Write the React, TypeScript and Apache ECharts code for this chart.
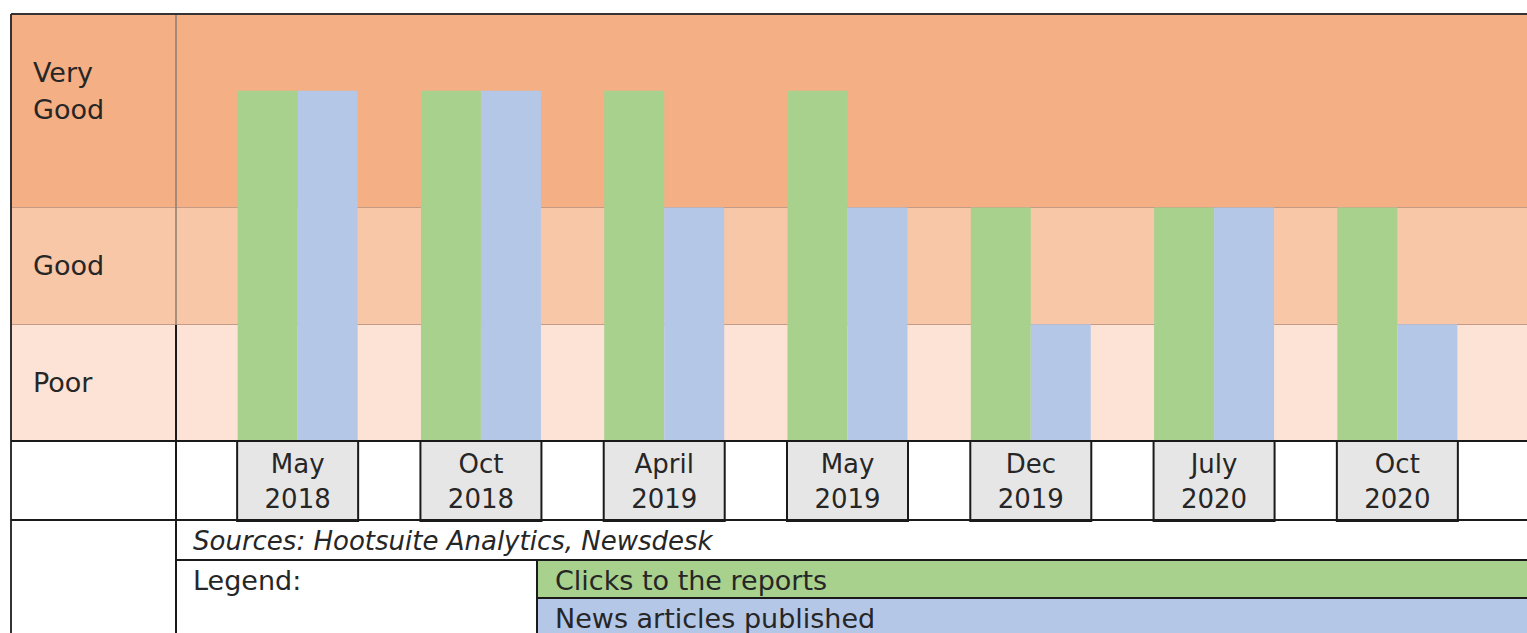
import React, { useEffect, useRef } from "react";
import * as echarts from "echarts";

const categories = ["May\n2018", "Oct\n2018", "April\n2019", "May\n2019", "Dec\n2019", "July\n2020", "Oct\n2020"];
const clicks = [3, 3, 3, 3, 2, 2, 2];
const news = [3, 3, 2, 2, 1, 2, 1];
const levelLabels = ["Poor", "Good", "Very\nGood"];
const levelTicks = [0.5, 1.5, 3];
const bandBounds = [0, 1, 2, 3.65];
const bandColors = ["#FCE3D5", "#F8C7A7", "#F4AF84"];
const seriesNames = ["Clicks to the reports", "News articles published"];
const sourceText = "Sources: Hootsuite Analytics, Newsdesk";

const FONT = "DejaVu Sans";
const TXT = "#262626";
const GREEN = "#A9D18E";
const BLUE = "#B4C7E7";

export default function App() {
  const ref = useRef<HTMLDivElement>(null);
  useEffect(() => {
    if (!ref.current) return;
    const chart = echarts.init(ref.current, null, { renderer: "svg" });
    const W = 1527;
    const blackLine = (x1: number, y1: number, x2: number, y2: number, color = "#1a1a1a", w = 2) => ({
      type: "line",
      shape: { x1, y1, x2, y2 },
      style: { stroke: color, lineWidth: w },
      z: 100,
      silent: true,
    });
    chart.setOption({
      animation: false,
      backgroundColor: "#ffffff",
      grid: [
        { left: 11, right: 0, top: 15, bottom: 192 },
        { left: 206, right: 38, top: 15, bottom: 192 },
      ],
      xAxis: [
        { gridIndex: 0, type: "value", min: 0, max: 1, show: false },
        {
          gridIndex: 1,
          type: "category",
          data: categories,
          axisLine: { show: false },
          axisTick: { show: false },
          axisLabel: {
            interval: 0,
            margin: 0,
            fontFamily: FONT,
            fontSize: 26,
            lineHeight: 35,
            color: TXT,
            backgroundColor: "#E7E6E6",
            borderColor: "#1a1a1a",
            borderWidth: 2,
            width: 119,
            height: 70,
            padding: [5, 0, 4, 0],
            align: "center",
            verticalAlign: "top",
          },
        },
      ],
      yAxis: [
        {
          gridIndex: 0,
          type: "value",
          min: 0,
          max: 3.65,
          interval: 0.5,
          z: 20,
          axisLine: { show: false },
          axisTick: { show: false },
          splitLine: { show: false },
          axisLabel: {
            inside: true,
            margin: 22,
            align: "left",
            fontFamily: FONT,
            fontSize: 27,
            lineHeight: 37,
            color: TXT,
            formatter: (v: number) => {
              const i = levelTicks.findIndex((t) => Math.abs(t - v) < 1e-6);
              return i >= 0 ? levelLabels[i] : "";
            },
          },
        },
        { gridIndex: 1, type: "value", min: 0, max: 3.65, show: false },
      ],
      series: [
        {
          type: "line",
          xAxisIndex: 0,
          yAxisIndex: 0,
          data: [[0, 0]],
          showSymbol: false,
          lineStyle: { opacity: 0 },
          silent: true,
          z: 1,
          markArea: {
            silent: true,
            label: { show: false },
            data: bandColors.map((c, i) => [
              { yAxis: bandBounds[i], itemStyle: { color: c } },
              { yAxis: bandBounds[i + 1] },
            ]),
          },
          markLine: {
            symbol: "none",
            silent: true,
            label: { show: false },
            lineStyle: { color: "#C49C85", width: 1, type: "solid" },
            data: [{ yAxis: 1 }, { yAxis: 2 }],
          },
        },
        {
          name: seriesNames[0],
          type: "bar",
          xAxisIndex: 1,
          yAxisIndex: 1,
          data: clicks,
          barWidth: 60,
          barGap: "0%",
          itemStyle: { color: GREEN },
          z: 5,
        },
        {
          name: seriesNames[1],
          type: "bar",
          xAxisIndex: 1,
          yAxisIndex: 1,
          data: news,
          barWidth: 60,
          barGap: "0%",
          itemStyle: { color: BLUE },
          z: 5,
        },
      ],
      graphic: [
        { type: "rect", shape: { x: 537, y: 560, width: W - 537, height: 38 }, style: { fill: GREEN }, z: 90 },
        { type: "rect", shape: { x: 537, y: 598, width: W - 537, height: 40 }, style: { fill: BLUE }, z: 90 },
        blackLine(11, 14, W, 14, "#333333", 2),
        blackLine(11, 14, 11, 633, "#333333", 2),
        blackLine(176, 15, 176, 325, "#8c7d72", 1.5),
        blackLine(176, 325, 176, 633),
        blackLine(11, 441, W, 441),
        blackLine(11, 520, W, 520),
        blackLine(176, 560, W, 560),
        blackLine(537, 598, W, 598),
        blackLine(537, 560, 537, 633),
        {
          type: "text",
          x: 193,
          y: 541,
          z: 101,
          style: { text: sourceText, fontFamily: FONT, fontSize: 26, fontStyle: "italic", fill: TXT, verticalAlign: "middle" },
        },
        {
          type: "text",
          x: 193,
          y: 580,
          z: 101,
          style: { text: "Legend:", fontFamily: FONT, fontSize: 27, fill: TXT, verticalAlign: "middle" },
        },
        {
          type: "text",
          x: 555,
          y: 580,
          z: 101,
          style: { text: seriesNames[0], fontFamily: FONT, fontSize: 27, fill: TXT, verticalAlign: "middle" },
        },
        {
          type: "text",
          x: 555,
          y: 618,
          z: 101,
          style: { text: seriesNames[1], fontFamily: FONT, fontSize: 27, fill: TXT, verticalAlign: "middle" },
        },
      ],
    });
    return () => chart.dispose();
  }, []);
  return <div ref={ref} style={{ position: "absolute", left: 0, top: 0, width: 1527, height: 633 }} />;
}
